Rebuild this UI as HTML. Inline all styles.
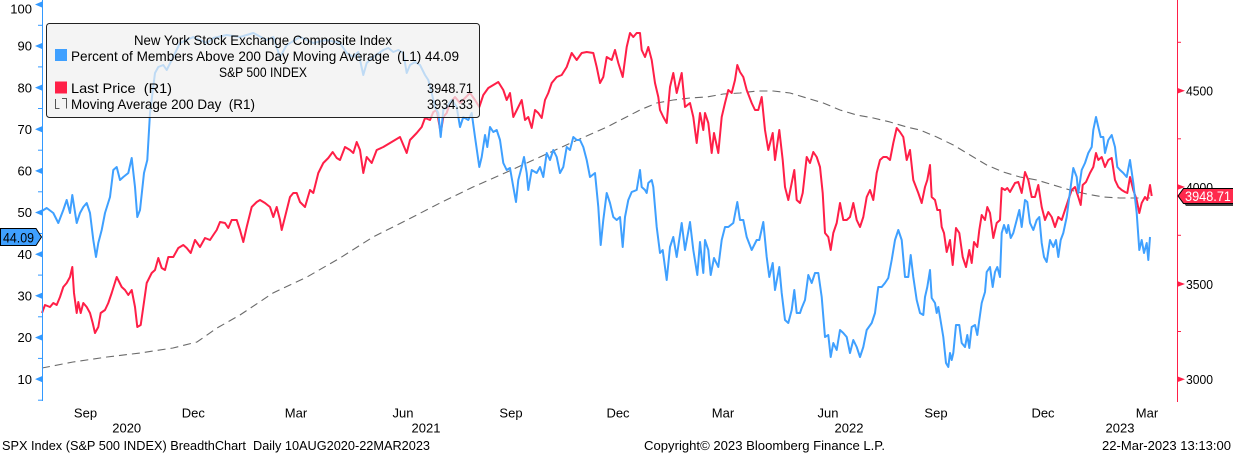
<!DOCTYPE html>
<html><head><meta charset="utf-8"><style>
html,body{margin:0;padding:0;background:#fff;}
svg{display:block;font-family:"Liberation Sans",Arial,sans-serif;}
</style></head><body>
<svg width="1233" height="454" viewBox="0 0 1233 454" xmlns="http://www.w3.org/2000/svg">
<rect width="1233" height="454" fill="#fff"/>

<!-- Moving average dashed -->
<polyline fill="none" stroke="#6a6a6a" stroke-width="1.1" stroke-dasharray="8,5" points="42,368 73,362 107,357 140,353 173,348 197,342 217,328 240,315 273,293 307,277 340,258 373,237 407,220 440,203 473,187 507,172 540,157 573,142 607,127 640,110 656.7,103 673.3,100 690,98 706.7,97 723.3,94 740,93 756.7,91 773.3,91 790,93 806.7,98 823.3,103 840,110 856.7,115 873.3,118 890,122 906.7,127 920,130 936.7,137 953.3,145 970,155 986.7,165 1003.3,172 1020,177 1036.7,180 1053.3,185 1070,190 1086.7,194 1103.3,197 1120,198 1136.7,198 1150,198"/>

<!-- Last price red -->
<polyline fill="none" stroke="#ff1f47" stroke-width="2" stroke-linejoin="round" points="42,313 45,305 50,307 53.3,303 56.7,305 60,297 63.3,287 66.7,283 70,277 72.3,267 74,293 76.7,313 78.3,302 80.7,313 83.3,303 86.7,307 90,313 92.7,323 95,333 98.3,327 100.7,313 105,310 108.3,303 111.7,293 116.7,277 121.7,287 125,290 128.3,295 131.7,290 135,307 137.3,327 140.7,325 143.3,307 146.7,283 151.7,273 155,270 158.3,258 161.7,268 165,270 168.3,257 173.3,257 178.3,248 183.3,245 186.7,248 190.7,253 195,240 200,247 205,238 210,240 213.3,235 216.7,230 220,222 225,223 228.3,228 231.7,220 236.7,220 240,230 243.3,242 246.7,227 251.7,207 256.7,202 260,200 265,203 270,207 273.3,217 276.7,207 280,220 281.7,230 285,217 290,197 293.3,193 296.7,193 300,202 305,207 310,190 313.3,193 318.3,173 323.3,163 328.3,158 332.7,152 336.7,158 340,160 345,147 350,150 353.3,153 356.7,142 360,150 363.3,173 366.7,157 371.7,163 376.7,150 383.3,147 390,143 395,140 400,137 406.7,153 410,140 416.7,133 421.7,127 425,118 430,120 433.3,112 436.7,110 440.7,133 443.3,117 446.7,113 450,103 455,97 460,103 465,98 470,93 475,100 479.3,107 483.3,95 488.3,88 493.3,85 498.3,82 503.3,90 506.7,100 510,93 513.3,117 518.3,107 521.7,100 525,120 528.3,117 531.7,128 535,110 538.3,113 541.7,118 545,100 548.3,93 551.7,83 556.7,77 561.7,75 566.7,67 571.7,53 576.7,60 581.7,53 586.7,52 593.3,53 596.7,67 600,83 603.3,77 606.7,57 611.7,60 615,50 618.3,63 622.7,77 626.7,47 630,33 633.3,37 636.7,33 640,33 641.7,50 645,57 648.3,47 651.7,60 655,83 658.3,97 660,110 663.3,117 666.7,123 670,87 673.3,73 676.7,93 681.7,73 685,107 690,103 693.3,117 696.7,143 700,113 703.3,130 705,113 708.3,123 711.7,153 714,133 718.3,153 721.7,117 725,103 728.3,90 731.7,93 735,80 737.3,65 740,72 743.3,77 746.7,90 751.7,103 755,110 758.3,110 761.7,97 765,130 768.3,150 772.7,133 775,160 779.3,130 782.7,160 785,187 788.3,200 791.7,183 794.3,170 796.7,200 800,203 802.7,193 806.7,157 810,163 813.3,152 816.7,157 820,167 822.7,193 825,233 828.3,237 830.7,250 833.3,233 836.7,223 840,203 843.3,220 846.7,220 850,217 853.3,203 856.7,220 860,227 863.3,217 866.7,197 870,190 873.3,200 876.7,173 880,160 883.3,157 886.7,157 890,160 893.3,143 896.7,128 900,132 903.3,137 906.7,160 910,150 913.3,180 918.3,193 921.7,203 925,187 927.3,180 930,165 931.7,197 935,200 937.3,210 940,210 941.7,227 944,233 946.7,252 950,240 952.7,265 956,228 959.3,233 962.7,257 966,267 969.3,250 971.7,263 974,242 977.3,247 979.3,230 981.7,215 985,220 987.3,207 990,213 993.3,238 996.7,223 1000,220 1001.7,188 1005,190 1007.3,188 1010,192 1015,183 1018.3,182 1021.7,193 1025,172 1028.3,180 1031.7,197 1035,197 1038.3,185 1041.7,207 1045,220 1048.3,212 1051.7,217 1055,227 1058.3,217 1061.7,220 1065,210 1068.3,200 1071.7,190 1075,187 1078.3,197 1080.7,205 1082.7,185 1086,182 1090,173 1093.3,167 1096,153 1098.3,160 1101.7,157 1105,167 1108.3,160 1111.7,158 1115,180 1118.3,187 1121.7,190 1125,192 1127.3,193 1130,177 1133.3,190 1136.7,200 1139.3,213 1141.7,203 1145,197 1147.3,200 1150,185 1151.7,196"/>

<!-- Breadth blue -->
<polyline fill="none" stroke="#3fa0ff" stroke-width="2" stroke-linejoin="round" points="42,211 46.7,208 53.3,213 58.3,223 63.3,210 66.7,200 70,213 72.3,195 76.7,223 80,213 83.3,207 86.7,203 90,213 93.3,240 96,257 98.3,243 101.7,230 105,213 110,197 113.3,170 116.7,167 120,180 123.3,177 128.3,173 131.7,158 135,187 137.3,217 140,210 144,173 147.3,160 150,113 155,73 158.3,67 163.3,65 166.7,70 171.7,60 180,43 186.7,40 193.3,37 206.7,43 213.3,38 226.7,35 240,37 253.3,33 266.7,40 273.3,37 280,57 286.7,45 300,37 313.3,43 326.7,40 340,43 346.7,53 353.3,57 358.3,52 363.3,75 366.7,63 373.3,57 383.3,50 388.3,48 393.3,52 398.3,50 403.3,53 406.7,73 410,65 415,62 420,65 425,75 428.3,80 431.7,93 435,107 438.3,113 440.7,137 443.3,110 446.7,107 451.7,100 456.7,107 460,127 463.3,117 468.3,120 471.7,113 475,137 479.3,167 481.7,157 485,135 487.3,147 490,127 493.3,132 496.7,130 500,140 503.3,163 506.7,170 510,168 513.3,187 516,202 518.3,180 521.7,167 524,157 526.7,173 528.3,190 531.7,170 536.7,173 540,167 543.3,177 546.7,153 550,160 553.3,150 556.7,157 560,173 563.3,167 566.7,147 570,150 573.3,137 576.7,140 580,140 583.3,147 586.7,160 590,177 595,173 598.3,207 600.7,245 603.3,220 606.7,193 610,203 613.3,217 616.7,220 620,217 622.7,247 625,217 628.3,200 631.7,192 636.7,190 640,170 641.7,187 645,190 646.7,193 648.3,183 651.7,180 653.3,187 656.7,227 660,253 662.7,250 666.7,280 670,247 673.3,237 676.7,257 681.7,223 685,250 690,222 693.3,250 697.3,275 700,242 703.3,273 705,240 708.3,250 710.7,275 714,258 718.3,267 721.7,240 725,227 728.3,227 733.3,223 737.3,202 740,220 743.3,220 746.7,237 751.7,250 756.7,240 759.3,240 763.3,222 766.7,257 769.3,277 772.7,263 775,290 779.3,267 781.7,293 785,320 788.3,323 791.7,310 794.3,290 796.7,313 800,313 801.7,308 805,300 808.3,275 811.7,283 815,273 818.3,273 821.7,297 825,337 828.3,335 830.7,357 833.3,343 836.7,350 840,330 843.3,333 846.7,337 850,353 853.3,340 856.7,347 860,357 863.3,347 866.7,330 871.7,323 875,313 878.3,287 881.7,287 885,283 888.3,278 891.7,260 895,240 898.3,230 901.7,240 905,277 908.3,277 910.7,255 913.3,277 916.7,300 920,313 923.3,315 925,297 927.3,287 930,270 931.7,298 935,303 936.7,313 938.3,307 940,317 943.3,337 946,363 948.3,367 950,353 951.7,360 953.3,353 956,325 959.3,325 961.7,343 965,347 967.3,335 969.3,348 971.7,327 975,325 977.3,335 979.3,320 981.7,303 985,292 986.7,272 990,267 992.7,287 995,272 997.3,267 1000,277 1001.7,233 1004,225 1006.7,233 1008.3,225 1010.7,238 1013.3,233 1016.7,220 1019.3,210 1021.7,227 1025,200 1027.3,202 1030,223 1033.3,230 1036.7,220 1039.3,217 1041.7,243 1044,257 1046.7,262 1050,240 1053.3,247 1056,240 1058.3,257 1060.7,240 1063.3,233 1066.7,217 1069.3,197 1073.3,168 1076.7,177 1078.3,193 1081.7,170 1085,163 1088.3,153 1091.7,147 1093.3,130 1096,117 1098.3,127 1100.7,137 1103.3,137 1105,153 1108.3,140 1111.7,135 1115,147 1117.3,167 1120,170 1123.3,173 1126.7,177 1130,160 1133.3,183 1136.7,213 1139.3,250 1141.7,240 1144,253 1146.7,243 1148.3,260 1150,237"/>

<!-- Legend -->
<rect x="46.5" y="23.5" width="433" height="94" rx="3" ry="3" fill="#f0f0f0" fill-opacity="0.72" stroke="#222" stroke-width="1"/>
<g font-size="14" fill="#000">
<text x="134" y="45" textLength="258" lengthAdjust="spacingAndGlyphs">New York Stock Exchange Composite Index</text>
<rect x="55" y="49" width="12" height="12" fill="#3fa0ff"/>
<text x="71" y="61" textLength="388" lengthAdjust="spacingAndGlyphs" xml:space="preserve">Percent of Members Above 200 Day Moving Average  (L1) 44.09</text>
<text x="219" y="77" textLength="88" lengthAdjust="spacingAndGlyphs">S&amp;P 500 INDEX</text>
<rect x="55" y="81.5" width="12" height="12" fill="#ff1f47"/>
<text x="71" y="93" textLength="101" lengthAdjust="spacingAndGlyphs" xml:space="preserve">Last Price  (R1)</text>
<text x="427" y="93" textLength="46" lengthAdjust="spacingAndGlyphs">3948.71</text>
<path d="M55.5,99 v9.5 h4 M62,98.5 h4.5 v10" fill="none" stroke="#555" stroke-width="1"/>
<text x="71" y="109" textLength="184" lengthAdjust="spacingAndGlyphs" xml:space="preserve">Moving Average 200 Day  (R1)</text>
<text x="427" y="109" textLength="46" lengthAdjust="spacingAndGlyphs">3934.33</text>
</g>

<!-- Left axis -->
<line x1="42.5" y1="0" x2="42.5" y2="401" stroke="#3399ff" stroke-width="1"/>
<g fill="#3399ff">
<polygon points="42,1.5 35,4.5 42,7.5"/>
<polygon points="42,43 35,46 42,49"/>
<polygon points="42,84.6 35,87.6 42,90.6"/>
<polygon points="42,126.2 35,129.2 42,132.2"/>
<polygon points="42,167.9 35,170.9 42,173.9"/>
<polygon points="42,209.5 35,212.5 42,215.5"/>
<polygon points="42,251.2 35,254.2 42,257.2"/>
<polygon points="42,292.8 35,295.8 42,298.8"/>
<polygon points="42,334.5 35,337.5 42,340.5"/>
<polygon points="42,376.1 35,379.1 42,382.1"/>
</g>
<g stroke="#3399ff" stroke-width="1">
<line x1="38" y1="25.3" x2="42" y2="25.3"/>
<line x1="38" y1="66.9" x2="42" y2="66.9"/>
<line x1="38" y1="108.5" x2="42" y2="108.5"/>
<line x1="38" y1="150.2" x2="42" y2="150.2"/>
<line x1="38" y1="191.8" x2="42" y2="191.8"/>
<line x1="38" y1="233.5" x2="42" y2="233.5"/>
<line x1="38" y1="275.1" x2="42" y2="275.1"/>
<line x1="38" y1="316.8" x2="42" y2="316.8"/>
<line x1="38" y1="358.4" x2="42" y2="358.4"/>
<line x1="38" y1="400.2" x2="42" y2="400.2"/>
</g>
<g font-size="13" fill="#000" text-anchor="end">
<text x="32" y="13.3">100</text>
<text x="32" y="50.7">90</text>
<text x="32" y="92.3">80</text>
<text x="32" y="133.9">70</text>
<text x="32" y="175.6">60</text>
<text x="32" y="217.2">50</text>
<text x="32" y="258.9">40</text>
<text x="32" y="300.5">30</text>
<text x="32" y="342.2">20</text>
<text x="32" y="383.8">10</text>
</g>

<!-- Left value label -->
<polygon points="0.5,228.5 36,228.5 41.5,237 36,245.5 0.5,245.5" fill="#3fa0ff" stroke="#000" stroke-width="1"/>
<text x="3" y="242.5" font-size="14" fill="#000" textLength="31" lengthAdjust="spacingAndGlyphs">44.09</text>

<!-- Right axis -->
<line x1="1177.5" y1="0" x2="1177.5" y2="402" stroke="#ff1f47" stroke-width="1"/>
<g fill="#ff1f47">
<polygon points="1177,87.7 1185,90.7 1177,93.7"/>
<polygon points="1177,184 1185,187 1177,190"/>
<polygon points="1177,281 1185,284 1177,287"/>
<polygon points="1177,376.3 1185,379.3 1177,382.3"/>
</g>
<g stroke="#ff1f47" stroke-width="1">
<line x1="1177" y1="42.3" x2="1181" y2="42.3"/>
<line x1="1177" y1="138.8" x2="1181" y2="138.8"/>
<line x1="1177" y1="235.3" x2="1181" y2="235.3"/>
<line x1="1177" y1="331.5" x2="1181" y2="331.5"/>
</g>
<g font-size="13" fill="#000">
<text x="1186" y="95.5" textLength="27" lengthAdjust="spacingAndGlyphs">4500</text>
<text x="1186" y="191.8" textLength="27" lengthAdjust="spacingAndGlyphs">4000</text>
<text x="1186" y="288.8" textLength="27" lengthAdjust="spacingAndGlyphs">3500</text>
<text x="1186" y="384.1" textLength="27" lengthAdjust="spacingAndGlyphs">3000</text>
</g>

<!-- Right value label -->
<polygon points="1186,191 1236,191 1236,206 1186,206 1180.5,198.5" fill="#444"/>
<polygon points="1183.5,188.5 1234,188.5 1234,203.5 1183.5,203.5 1178,196" fill="#ff2a4d" stroke="#000" stroke-width="1"/>
<text x="1185" y="201" font-size="14" fill="#fff" textLength="46" lengthAdjust="spacingAndGlyphs">3948.71</text>

<!-- X axis labels -->
<g font-size="13" fill="#000" text-anchor="middle">
<text x="85.5" y="417.5">Sep</text>
<text x="193.3" y="417.5">Dec</text>
<text x="296" y="417.5">Mar</text>
<text x="403" y="417.5">Jun</text>
<text x="511" y="417.5">Sep</text>
<text x="618" y="417.5">Dec</text>
<text x="723" y="417.5">Mar</text>
<text x="828" y="417.5">Jun</text>
<text x="936" y="417.5">Sep</text>
<text x="1043" y="417.5">Dec</text>
<text x="1147" y="417.5">Mar</text>
<text x="126.7" y="432.5">2020</text>
<text x="426" y="432.5">2021</text>
<text x="849" y="432.5">2022</text>
<text x="1120" y="432.5">2023</text>
</g>

<!-- Footer -->
<g font-size="13" fill="#000">
<text x="2" y="450" textLength="428" lengthAdjust="spacingAndGlyphs" xml:space="preserve">SPX Index (S&amp;P 500 INDEX) BreadthChart  Daily 10AUG2020-22MAR2023</text>
<text x="644" y="450" textLength="241" lengthAdjust="spacingAndGlyphs">Copyright© 2023 Bloomberg Finance L.P.</text>
<text x="1102" y="450" textLength="129" lengthAdjust="spacingAndGlyphs">22-Mar-2023 13:13:00</text>
</g>
</svg>
</body></html>
